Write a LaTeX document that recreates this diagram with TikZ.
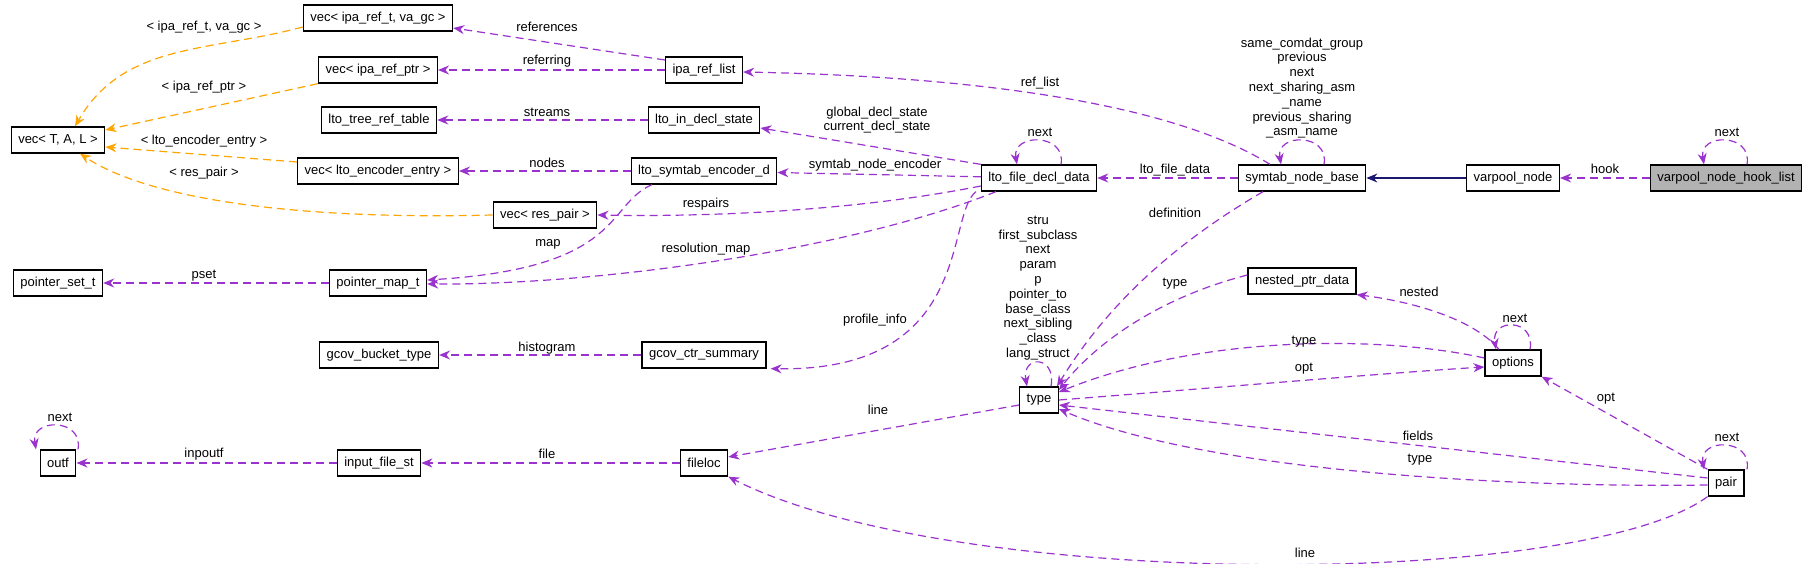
\documentclass[tikz,border=0pt]{standalone}
\usepackage{fontspec}
\setmainfont{Liberation Sans}
\usetikzlibrary{arrows.meta}
\definecolor{refline}{HTML}{9A32CD}
\definecolor{tmplline}{HTML}{FFA500}
\definecolor{inhline}{HTML}{191970}
\begin{document}
\begin{tikzpicture}[x=1pt,y=-1pt,
  cls/.style={draw,line width=1.3pt,fill=white,minimum height=26pt,inner xsep=7pt,font=\fontsize{13}{15}\selectfont},
  lbl/.style={font=\fontsize{13}{14.8}\selectfont,inner sep=0pt,align=center},
  dep/.style={->,>={Stealth[length=11pt,width=9pt]},refline,line width=1.2pt,dash pattern=on 8pt off 5pt},
  tmpl/.style={dep,tmplline},
  inh/.style={->,>={Stealth[length=11pt,width=9pt]},inhline,line width=1.2pt},
  loop/.style={dep,out=80,in=100,distance=32pt}]
\useasboundingbox (0,0) rectangle (1811,564);

% classes
\node[cls] (vecTAL) at (58,140) {vec< T, A, L >};
\node[cls] (vecIpaRefT) at (378,18) {vec< ipa\_ref\_t, va\_gc >};
\node[cls] (vecIpaRefPtr) at (378,70) {vec< ipa\_ref\_ptr >};
\node[cls] (ltoTreeRefTable) at (379,120) {lto\_tree\_ref\_table};
\node[cls] (vecLtoEnc) at (378,171) {vec< lto\_encoder\_entry >};
\node[cls] (vecResPair) at (545,215) {vec< res\_pair >};
\node[cls] (pointerSetT) at (58,283) {pointer\_set\_t};
\node[cls] (pointerMapT) at (378,283) {pointer\_map\_t};
\node[cls] (gcovBucket) at (379,355) {gcov\_bucket\_type};
\node[cls] (outf) at (58,463) {outf};
\node[cls] (inputFile) at (379,463) {input\_file\_st};
\node[cls] (ipaRefList) at (704,70) {ipa\_ref\_list};
\node[cls] (ltoInDecl) at (704,120) {lto\_in\_decl\_state};
\node[cls] (ltoSymtabEnc) at (704,171) {lto\_symtab\_encoder\_d};
\node[cls] (gcovCtr) at (704,355) {gcov\_ctr\_summary};
\node[cls] (fileloc) at (704,463) {fileloc};
\node[cls] (ltoFileDecl) at (1039,178) {lto\_file\_decl\_data};
\node[cls] (type) at (1039,400) {type};
\node[cls] (symtabNodeBase) at (1302,178) {symtab\_node\_base};
\node[cls] (nestedPtr) at (1302,281) {nested\_ptr\_data};
\node[cls] (varpoolNode) at (1513,178) {varpool\_node};
\node[cls] (options) at (1513,363) {options};
\node[cls,fill=black!30] (hookList) at (1726,178) {varpool\_node\_hook\_list};
\node[cls] (pair) at (1726,483) {pair};

% template instances
\draw[tmpl] ([yshift=-9]vecIpaRefT.west) to[out=195,in=60] ([xshift=17]vecTAL.north);
\draw[tmpl] (vecIpaRefPtr.south west) -- ([yshift=10]vecTAL.east);
\draw[tmpl] ([yshift=9]vecLtoEnc.west) -- ([yshift=-7]vecTAL.east);
\draw[tmpl] (vecResPair.west) .. controls (300,220) and (150,200) .. ([xshift=22]vecTAL.south);

% members
\draw[dep] ([yshift=10]ipaRefList.west) -- ([yshift=-10]vecIpaRefT.east);
\draw[dep] (ipaRefList) -- (vecIpaRefPtr);
\draw[dep] (ltoInDecl) -- (ltoTreeRefTable);
\draw[dep] (ltoSymtabEnc) -- (vecLtoEnc);
\draw[dep] ([xshift=-32]symtabNodeBase.north) .. controls (1150,90) and (900,75) .. ([yshift=-2]ipaRefList.east);
\draw[dep] (ltoFileDecl.north west) -- ([yshift=-8]ltoInDecl.east);
\draw[dep] (ltoFileDecl) -- (ltoSymtabEnc);
\draw[dep] ([yshift=-8]ltoFileDecl.west) .. controls (850,212) and (700,217) .. (vecResPair.east);
\draw[dep] ([xshift=-52]ltoSymtabEnc.south) .. controls (605,205) and (625,268) .. ([yshift=3]pointerMapT.east);
\draw[dep] ([xshift=-43]ltoFileDecl.south) .. controls (850,250) and (600,285) .. ([yshift=-1]pointerMapT.east);
\draw[dep] (pointerMapT) -- (pointerSetT);
\draw[dep] ([xshift=-63]ltoFileDecl.south) .. controls (945,215) and (975,372) .. ([xshift=4]gcovCtr.south east);
\draw[dep] (gcovCtr) -- (gcovBucket);
\draw[dep] (symtabNodeBase) -- (ltoFileDecl);
\draw[loop] ([xshift=22]symtabNodeBase.north) to ([xshift=-21]symtabNodeBase.north);
\draw[loop] ([xshift=22]ltoFileDecl.north) to ([xshift=-22]ltoFileDecl.north);
\draw[inh] (varpoolNode) -- (symtabNodeBase);
\draw[dep] (hookList) -- (varpoolNode);
\draw[loop] ([xshift=21]hookList.north) to ([xshift=-22]hookList.north);
\draw[dep] ([xshift=-39]symtabNodeBase.south) .. controls (1180,240) and (1110,300) .. ([xshift=18]type.north);
\draw[loop] ([xshift=12]type.north) to ([xshift=-12]type.north);
\draw[dep] ([yshift=6]nestedPtr.west) .. controls (1150,300) and (1090,350) .. ([yshift=10]type.east);
\draw[dep] ([xshift=-14]options.north) .. controls (1470,315) and (1400,300) .. (nestedPtr.south east);
\draw[loop] ([xshift=17]options.north) to ([xshift=-17]options.north);
\draw[dep] ([yshift=5]options.west) .. controls (1380,335) and (1200,335) .. ([yshift=8]type.east);
\draw[dep] (type.east) .. controls (1250,385) and (1400,372) .. ([yshift=-4]options.west);
\draw[dep] (pair.north west) -- (options.south east);
\draw[loop] ([xshift=21]pair.north) to ([xshift=-22]pair.north);
\draw[dep] ([yshift=5]pair.west) -- ([yshift=-5]type.east);
\draw[dep] ([yshift=-2]pair.west) .. controls (1500,488) and (1200,470) .. ([yshift=-9]type.east);
\draw[dep] ([yshift=-5]type.west) -- ([yshift=6]fileloc.east);
\draw[dep] (fileloc) -- (inputFile);
\draw[dep] (inputFile) -- (outf);
\draw[loop] ([xshift=20]outf.north) to ([xshift=-22]outf.north);
\draw[dep] (pair.south west) .. controls (1580,590) and (950,590) .. (fileloc.south east);

% labels
\node[lbl] (lIpaRefT) at (204,27) {< ipa\_ref\_t, va\_gc >};
\node[lbl] (lIpaRefPtr) at (204,87) {< ipa\_ref\_ptr >};
\node[lbl] (lLtoEnc) at (204,141) {< lto\_encoder\_entry >};
\node[lbl] (lResPair) at (204,173) {< res\_pair >};
\node[lbl] (lReferences) at (547,27) {references};
\node[lbl] (lReferring) at (547,61) {referring};
\node[lbl] (lStreams) at (547,112) {streams};
\node[lbl] (lNodes) at (547,163) {nodes};
\node[lbl] (lMap) at (548,244) {map};
\node[lbl] (lResolution) at (706,249) {resolution\_map};
\node[lbl] (lRespairs) at (706,204) {respairs};
\node[lbl] (lPset) at (204,276) {pset};
\node[lbl] (lHistogram) at (547,348) {histogram};
\node[lbl] (lInpoutf) at (204,454) {inpoutf};
\node[lbl] (lFile) at (547,454) {file};
\node[lbl] (lOutfNext) at (60,417) {next};
\node[lbl] (lDeclState) at (877,120) {global\_decl\_state\\current\_decl\_state};
\node[lbl] (lEncoder) at (875,165) {symtab\_node\_encoder};
\node[lbl] (lProfile) at (875,320) {profile\_info};
\node[lbl] (lRefList) at (1040,83) {ref\_list};
\node[lbl] (lDeclNext) at (1040,132) {next};
\node[lbl] (lFileData) at (1175,170) {lto\_file\_data};
\node[lbl] (lSymtab) at (1302,88) {same\_comdat\_group\\previous\\next\\next\_sharing\_asm\\\_name\\previous\_sharing\\\_asm\_name};
\node[lbl] (lHook) at (1605,169) {hook};
\node[lbl] (lHookNext) at (1727,132) {next};
\node[lbl] (lDefinition) at (1175,213) {definition};
\node[lbl] (lTypeSelf) at (1038,288) {stru\\first\_subclass\\next\\param\\p\\pointer\_to\\base\_class\\next\_sibling\\\_class\\lang\_struct};
\node[lbl] (lNestedType) at (1175,284) {type};
\node[lbl] (lNested) at (1419,292) {nested};
\node[lbl] (lOptNext) at (1515,318) {next};
\node[lbl] (lOptType) at (1304,342) {type};
\node[lbl] (lOpt) at (1304,369) {opt};
\node[lbl] (lPairOpt) at (1606,399) {opt};
\node[lbl] (lPairNext) at (1727,437) {next};
\node[lbl] (lFields) at (1418,436) {fields};
\node[lbl] (lPairType) at (1420,460) {type};
\node[lbl] (lLine) at (878,410) {line};
\node[lbl] (lPairLine) at (1305,553) {line};
\end{tikzpicture}
\end{document}
